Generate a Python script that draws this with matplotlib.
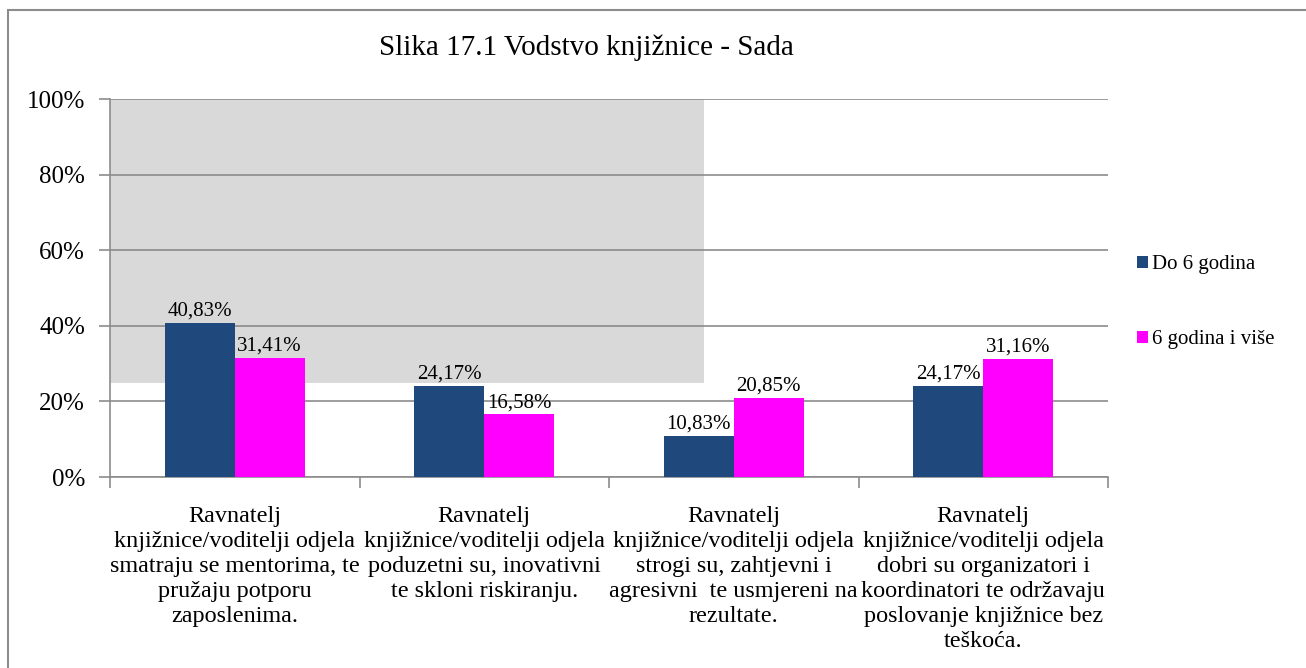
import matplotlib
matplotlib.use("Agg")
import matplotlib.pyplot as plt
import matplotlib.patches as mpatches
import numpy as np

categories = [
    "Ravnatelj\nknjižnice/voditelji odjela\nsmatraju se mentorima, te\npružaju potporu\nzaposlenima.",
    "Ravnatelj\nknjižnice/voditelji odjela\npoduzetni su, inovativni\nte skloni riskiranju.",
    "Ravnatelj\nknjižnice/voditelji odjela\nstrogi su, zahtjevni i\nagresivni  te usmjereni na\nrezultate.",
    "Ravnatelj\nknjižnice/voditelji odjela\ndobri su organizatori i\nkoordinatori te održavaju\nposlovanje knjižnice bez\nteškoća.",
]
series_names = ["Do 6 godina", "6 godina i više"]
do6 = [40.83, 24.17, 10.83, 24.17]
vise6 = [31.41, 16.58, 20.85, 31.16]
colors = ["#1F497D", "#FF00FF"]
title = "Slika 17.1 Vodstvo knjižnice - Sada"
yticks = [0, 20, 40, 60, 80, 100]

plt.rcParams['font.family'] = ['Liberation Serif', 'DejaVu Serif']

fig = plt.figure(figsize=(13.06, 6.68), dpi=100)
W, H = 1306, 668
ax = fig.add_axes([110 / W, 1 - 477 / H, 998 / W, 378 / H])

# outer chart border
fig.patches.append(mpatches.Rectangle((8 / W, -0.05), 1.2, 1 - 10 / H + 0.05,
                                      transform=fig.transFigure, fill=False,
                                      edgecolor="#8c8c8c", linewidth=1.5))

# gray overlay region (artifact in reference)
ax.add_patch(mpatches.Rectangle((-0.5, 25), 2.38, 75, facecolor="#d9d9d9",
                                edgecolor="none", zorder=0))

x = np.arange(len(categories))
bw = 0.28
b1 = ax.bar(x - bw / 2, do6, bw, color=colors[0], label=series_names[0], zorder=3)
b2 = ax.bar(x + bw / 2, vise6, bw, color=colors[1], label=series_names[1], zorder=3)

for bars, vals in ((b1, do6), (b2, vise6)):
    for r, v in zip(bars, vals):
        ax.text(r.get_x() + r.get_width() / 2, v + 0.6,
                f"{v:.2f}%".replace(".", ","), ha="center", va="bottom",
                fontsize=15, zorder=4)

ax.set_xlim(-0.5, len(categories) - 0.5)
ax.set_ylim(0, 100)
ax.set_yticks(yticks)
ax.set_yticklabels([f"{t}%" for t in yticks], fontsize=18)
ax.yaxis.grid(True, color="#8c8c8c", linewidth=1.2, zorder=1)
ax.set_axisbelow(True)
for s in ("top", "right"):
    ax.spines[s].set_visible(False)
for s in ("left", "bottom"):
    ax.spines[s].set_color("#8c8c8c")
    ax.spines[s].set_linewidth(1.2)
ax.tick_params(axis="y", length=8, color="#8c8c8c", width=1.2, pad=10)
ax.set_xticks(np.arange(-0.5, len(categories), 1.0))
ax.set_xticklabels([])
ax.tick_params(axis="x", length=8, color="#8c8c8c", width=1.2)

for i, c in enumerate(categories):
    ax.text(i, -7.6, c, ha="center", va="top", fontsize=17.4,
            linespacing=1.25, transform=ax.transData)

fig.text(586 / W, 1 - 48 / H, title, ha="center", va="center", fontsize=21)

ax.legend(loc="center left", bbox_to_anchor=(1.010, 0.462), frameon=False,
          fontsize=15, handlelength=0.55, handleheight=0.55, handletextpad=0.2,
          labelspacing=2.7)

fig.savefig("out.png", dpi=100)
